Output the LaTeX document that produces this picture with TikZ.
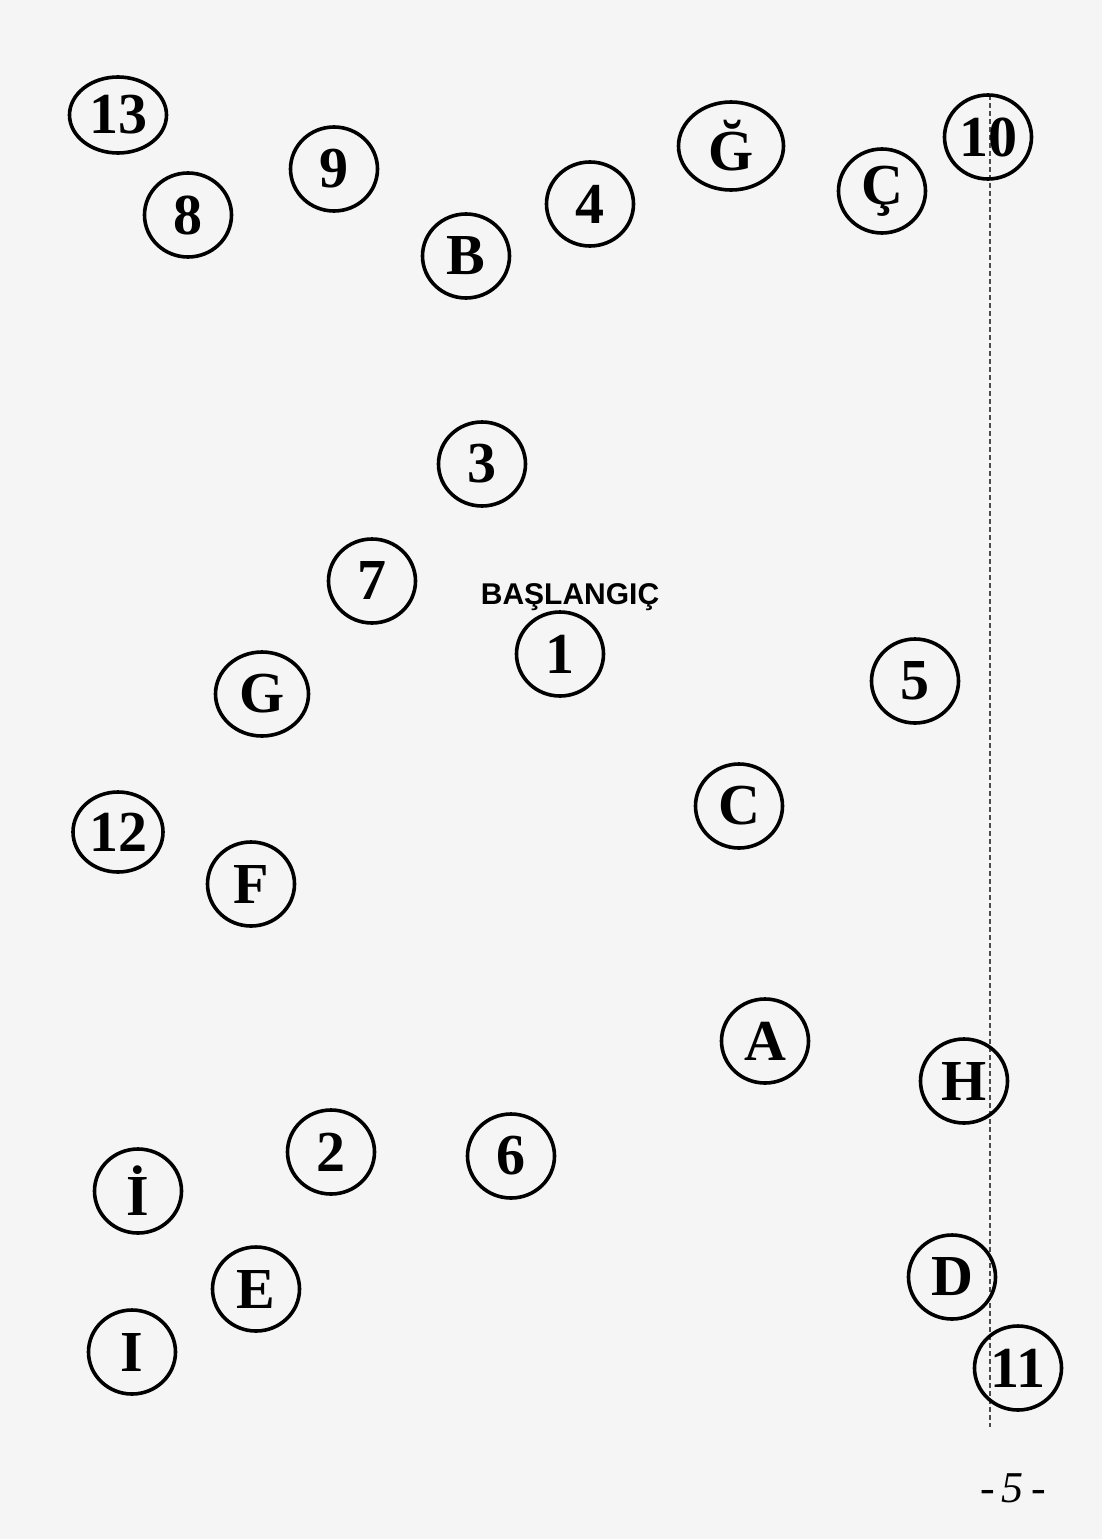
\documentclass[tikz,border=0pt]{standalone}
\usepackage{fontspec}
\setmainfont{Liberation Serif}
\newfontfamily\headfont{Liberation Sans}
\usetikzlibrary{shapes.geometric}

\begin{document}
\begin{tikzpicture}[x=1pt,y=-1pt]
\tikzstyle{dot} = [shape = ellipse,draw = black,line width = 3.6pt,minimum width = 87pt,minimum height = 84pt,inner sep = 0pt,font = \bfseries\fontsize{58}{58}\selectfont]

\fill[gray!8] (0,0) rectangle (1102,1539);
\useasboundingbox (0,0) rectangle (1102,1539);

% scan mark on the right
\draw[gray!60!black,line width=1.6pt,dash pattern=on 5pt off 3pt] (990,95) -- (990,1427);

\node[font=\headfont\bfseries\fontsize{30}{30}\selectfont] (start) at (570,597) {BAŞLANGIÇ};

% numbers
\node[dot] (n1) at (560,654) {1};
\node[dot] (n2) at (331,1152) {2};
\node[dot] (n3) at (482,464) {3};
\node[dot] (n4) at (590,204) {4};
\node[dot] (n5) at (915,681) {5};
\node[dot] (n6) at (511,1156) {6};
\node[dot] (n7) at (372,581) {7};
\node[dot] (n8) at (188,215) {8};
\node[dot] (n9) at (334,169) {9};
\node[dot] (n10) at (988,137) {10};
\node[dot] (n11) at (1018,1368) {11};
\node[dot, minimum width=90pt, minimum height=80pt] (n12) at (118,832) {12};
\node[dot, minimum width=97pt, minimum height=76pt] (n13) at (118,115) {13};

% letters
\node[dot] (lA) at (765,1041) {A};
\node[dot] (lB) at (466,256) {B};
\node[dot] (lC) at (739,806) {C};
\node[dot] (lCc) at (882,191) {Ç};
\node[dot] (lD) at (952,1277) {D};
\node[dot] (lE) at (256,1289) {E};
\node[dot] (lF) at (251,884) {F};
\node[dot, minimum width=93pt] (lG) at (262,694) {G};
\node[dot, minimum width=105pt, minimum height=88pt] (lGg) at (731,146) {Ğ};
\node[dot] (lH) at (964,1081) {H};
\node[dot] (lIi) at (138,1191) {İ};
\node[dot] (lI) at (132,1352) {I};

\node[font=\itshape\fontsize{44}{44}\selectfont] (page) at (1013,1488) {-\,5\,-};

\end{tikzpicture}
\end{document}
